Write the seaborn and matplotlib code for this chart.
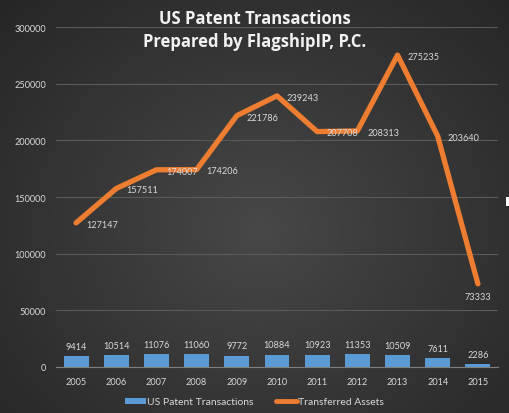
import numpy as np
import pandas as pd
import matplotlib
matplotlib.use("Agg")
import matplotlib.pyplot as plt
import seaborn as sns
from matplotlib.patches import Patch, Rectangle
from matplotlib.lines import Line2D

years = ["2005", "2006", "2007", "2008", "2009", "2010", "2011", "2012", "2013", "2014", "2015"]
transactions = [9414, 10514, 11076, 11060, 9772, 10884, 10923, 11353, 10509, 7611, 2286]
assets = [127147, 157511, 174007, 174206, 221786, 239243, 207708, 208313, 275235, 203640, 73333]
yticks = [0, 50000, 100000, 150000, 200000, 250000, 300000]
title_lines = ["US Patent Transactions", "Prepared by FlagshipIP, P.C."]
legend_labels = ["US Patent Transactions", "Transferred Assets"]

sns.set_theme(style="dark")
plt.rcParams["font.family"] = ["Lato", "DejaVu Sans"]

BLUE = "#5B9BD5"
ORANGE = "#ED7D31"
TXT = "#D9D9D9"

fig = plt.figure(figsize=(5.09, 4.14), dpi=100)

# background radial gradient
bg = fig.add_axes([0, 0, 1, 1], zorder=-10)
yy, xx = np.mgrid[0:414, 0:509]
r = np.sqrt(((xx - 260) / 330.0) ** 2 + ((yy - 230) / 300.0) ** 2)
val = 0.28 - 0.12 * np.clip(r, 0, 1.4)
bg.imshow(np.dstack([val, val, val]), aspect="auto", extent=[0, 1, 0, 1])
bg.set_axis_off()

ax = fig.add_axes([56 / 509, 46 / 414, 442 / 509, 340 / 414])
ax.patch.set_alpha(0)

df = pd.DataFrame({"year": years, "tx": transactions, "assets": assets, "pos": np.arange(len(years))})

sns.barplot(data=df, x="year", y="tx", color=BLUE, saturation=1, width=0.62, ax=ax, zorder=2,
            linewidth=0, edgecolor="none")
sns.lineplot(data=df, x="pos", y="assets", color=ORANGE, linewidth=3.8, ax=ax, zorder=3,
             solid_capstyle="round", solid_joinstyle="round")

ax.set_xlim(-0.5, 10.5)
ax.set_ylim(0, 300000)
ax.set_yticks(yticks)
ax.set_yticklabels([str(v) for v in yticks])
ax.set_xlabel("")
ax.set_ylabel("")
ax.grid(axis="y", color="#5a5a5a", linewidth=0.8, zorder=0)
ax.grid(axis="x", visible=False)
ax.set_axisbelow(True)
for s in ["top", "right", "left"]:
    ax.spines[s].set_visible(False)
ax.spines["bottom"].set_color("#7f7f7f")
ax.spines["bottom"].set_linewidth(0.8)
ax.tick_params(axis="both", length=0, colors=TXT, labelsize=6.6)
ax.tick_params(axis="y", pad=7)
ax.tick_params(axis="x", pad=7)

# bar labels
for i, v in enumerate(transactions):
    ax.annotate(str(v), (i, v), xytext=(0, 4), textcoords="offset points",
                ha="center", va="bottom", color=TXT, fontsize=6.6)
# line labels
for i, v in enumerate(assets):
    if i == len(assets) - 1:
        ax.annotate(str(v), (i, v), xytext=(0, -6), textcoords="offset points",
                    ha="center", va="top", color=TXT, fontsize=6.6)
    else:
        ax.annotate(str(v), (i, v), xytext=(7, -1), textcoords="offset points",
                    ha="left", va="center", color=TXT, fontsize=6.6)

fig.text(0.5, 1 - 19 / 414, title_lines[0], ha="center", va="center", color="#F2F2F2",
         fontsize=12, fontweight="bold", family="Open Sans")
fig.text(0.5, 1 - 42 / 414, title_lines[1], ha="center", va="center", color="#F2F2F2",
         fontsize=12, fontweight="bold", family="Open Sans")

handles = [Patch(facecolor=BLUE, edgecolor="none"),
           Line2D([0], [0], color=ORANGE, linewidth=3.5)]
fig.legend(handles, legend_labels, loc="center", bbox_to_anchor=(0.5, 1 - 403 / 414),
           ncol=2, frameon=False, fontsize=7.5, labelcolor=TXT, handlelength=2.0,
           handleheight=0.5, handletextpad=0.1, columnspacing=2.2)

fig.patches.append(Rectangle((506 / 509, 1 - 207 / 414), 3 / 509, 9 / 414,
                             transform=fig.transFigure, facecolor="white", edgecolor="none"))

fig.savefig("out.png", dpi=100)
